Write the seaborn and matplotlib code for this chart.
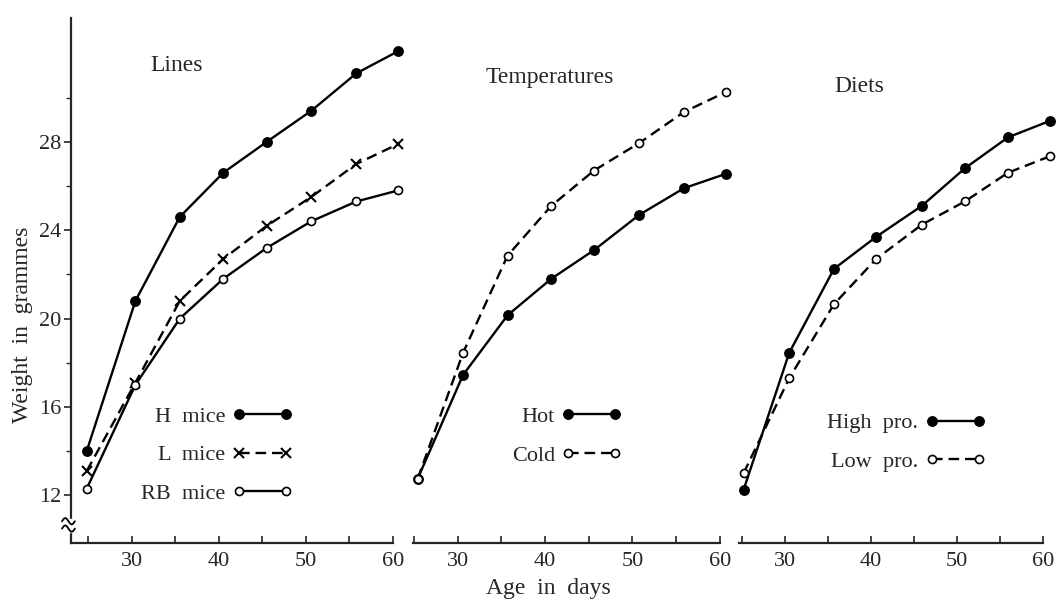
import numpy as np
import pandas as pd
import seaborn as sns
import matplotlib.pyplot as plt
from matplotlib.patches import Rectangle

# ages (days)
lines_age = [24.8, 30.4, 35.5, 40.5, 45.5, 50.6, 55.8, 60.6]
temp_age = [25.4, 30.6, 35.7, 40.7, 45.6, 50.8, 55.9, 60.7]
diet_age = [25.2, 30.5, 35.7, 40.6, 45.9, 50.9, 55.9, 60.8]

# weights in grammes
h_mice = [14.0, 20.8, 24.6, 26.6, 28.0, 29.4, 31.1, 32.1]
l_mice = [13.1, 17.1, 20.8, 22.7, 24.2, 25.5, 27.0, 27.9]
rb_mice = [12.3, 17.0, 20.0, 21.8, 23.2, 24.4, 25.3, 25.8]
hot = [12.75, 17.45, 20.15, 21.8, 23.1, 24.7, 25.9, 26.55]
cold = [12.75, 18.45, 22.85, 25.1, 26.7, 27.95, 29.35, 30.25]
high_pro = [12.25, 18.45, 22.25, 23.7, 25.1, 26.8, 28.2, 28.95]
low_pro = [13.0, 17.3, 20.65, 22.7, 24.25, 25.3, 26.6, 27.35]

sns.set_style('ticks')
plt.rcParams['font.family'] = ['Liberation Serif', 'DejaVu Serif']
plt.rcParams['font.size'] = 16

fig = plt.figure(figsize=(10.57, 6.01), dpi=100)
ax1 = fig.add_axes([0.0672, 0.096, 0.3046, 0.874])
ax2 = fig.add_axes([0.391, 0.096, 0.290, 0.874])
ax3 = fig.add_axes([0.699, 0.096, 0.288, 0.874])

solid = dict(marker='o', markersize=6.8, markerfacecolor='black',
             markeredgecolor='black', markeredgewidth=1.0)
hollow = dict(marker='o', markersize=5.8, markerfacecolor='white',
              markeredgecolor='black', markeredgewidth=1.2)
cross = dict(marker='x', markersize=6.5, markeredgecolor='black',
             markeredgewidth=1.5)
dashed = (0, (4.5, 2.5))


def draw(ax, ages, vals, label, style, ls):
    sns.lineplot(x=ages, y=vals, ax=ax, color='black', lw=1.7, label=label,
                 clip_on=False, zorder=3, linestyle=ls, **style)


draw(ax1, lines_age, h_mice, 'H  mice', solid, '-')
draw(ax1, lines_age, l_mice, 'L  mice', cross, dashed)
draw(ax1, lines_age, rb_mice, 'RB  mice', hollow, '-')

draw(ax2, temp_age, hot, 'Hot', solid, '-')
draw(ax2, temp_age, cold, 'Cold', hollow, dashed)

draw(ax3, diet_age, high_pro, 'High  pro.', solid, '-')
draw(ax3, diet_age, low_pro, 'Low  pro.', hollow, dashed)

titles = ['Lines', 'Temperatures', 'Diets']
title_pos = [(0.329, 0.910), (0.446, 0.886), (0.395, 0.869)]
legend_pos = [(0.453, 0.168), (0.501, 0.204), (0.55, 0.192)]
xlims = [(23.0, 60.0), (24.9, 60.0), (24.65, 60.0)]

for ax, t, tp, lp, xl in zip([ax1, ax2, ax3], titles, title_pos, legend_pos, xlims):
    ax.set_xlim(*xl)
    ax.set_ylim(9.83, 33.6)
    ax.set_xticks([30, 40, 50, 60])
    ax.set_xticks([25, 35, 45, 55], minor=True)
    ax.tick_params(axis='x', which='both', direction='in', length=5,
                   width=1.2, pad=6, labelsize=16)
    ax.spines['top'].set_visible(False)
    ax.spines['right'].set_visible(False)
    ax.spines['bottom'].set_linewidth(1.6)
    ax.set_xlabel('')
    ax.set_ylabel('')
    ax.text(tp[0], tp[1], t, transform=ax.transAxes, ha='center',
            va='center', fontsize=17)
    ax.legend(loc='center', bbox_to_anchor=lp, markerfirst=False,
              numpoints=2, handlelength=2.72, handletextpad=0.3,
              labelspacing=0.82, frameon=False, fontsize=16,
              borderaxespad=0, borderpad=0)

for ax in [ax2, ax3]:
    ax.spines['left'].set_visible(False)
    ax.set_yticks([])

ax1.spines['left'].set_linewidth(1.6)
ax1.set_yticks([12, 16, 20, 24, 28])
ax1.set_yticks([14, 18, 22, 26, 30], minor=True)
ax1.tick_params(axis='y', which='major', direction='out', length=5,
                width=1.2, pad=2, labelsize=16)
ax1.tick_params(axis='y', which='minor', direction='out', length=3.5,
                width=1.0)
ax1.set_ylabel('Weight  in  grammes', fontsize=17)
ax1.yaxis.set_label_coords(-0.118, 0.416)

# axis break mark on the y axis
ax1.add_patch(Rectangle((-0.01, 0.022), 0.02, 0.024, transform=ax1.transAxes,
                        color='white', clip_on=False, zorder=5))
wx = np.linspace(-0.028, 0.012, 20)
for yb in (0.028, 0.042):
    ax1.plot(wx, yb + 0.006 * np.sin((wx + 0.028) / 0.04 * 2 * np.pi),
             transform=ax1.transAxes, color='black', lw=1.3,
             clip_on=False, zorder=6)

fig.text(0.5187, 0.020, 'Age  in  days', ha='center', va='center', fontsize=17)

fig.savefig('out.png', dpi=100, facecolor='white')
